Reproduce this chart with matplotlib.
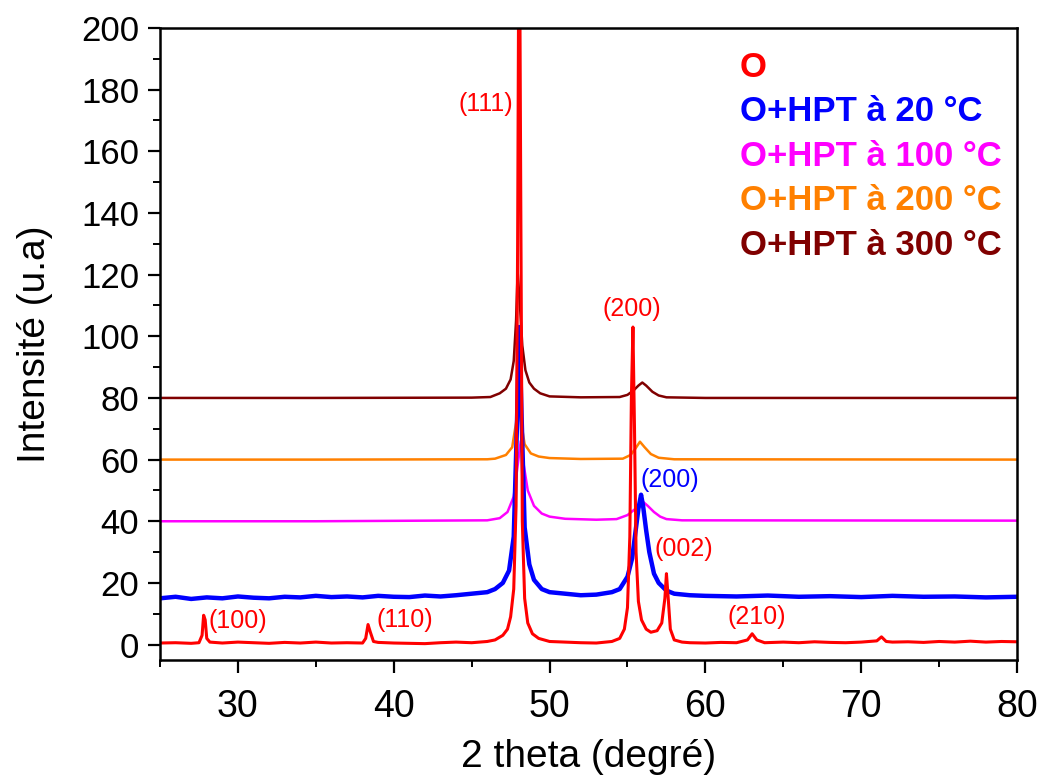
"""XRD patterns of O and O+HPT samples (stacked, offset baselines)."""
import matplotlib.pyplot as plt
from matplotlib.ticker import MultipleLocator

plt.rcParams.update({
    "font.family": ["Liberation Sans", "DejaVu Sans"],
    "font.size": 20,
    "axes.linewidth": 1.8,
})

# --- data (2theta in degrees, intensity in a.u.) ---
x_o = [25.0, 26.0, 27.0, 27.5, 27.7, 27.8, 27.9, 28.0, 28.2, 29.0, 30.0, 31.0, 32.0,
       33.0, 34.0, 35.0, 36.0, 37.0, 38.0, 38.2, 38.35, 38.5, 38.7, 39.0, 40.0, 41.0,
       42.0, 43.0, 44.0, 45.0, 46.0, 46.5, 47.0, 47.3, 47.5, 47.7, 47.85, 47.95, 48.05,
       48.15, 48.25, 48.4, 48.6, 48.9, 49.3, 50.0, 51.0, 52.0, 53.0, 54.0, 54.5, 54.8,
       55.0, 55.15, 55.25, 55.35, 55.45, 55.55, 55.7, 55.9, 56.2, 56.5, 56.9, 57.2,
       57.4, 57.5, 57.6, 57.75, 58.0, 58.5, 59.0, 60.0, 61.0, 62.0, 62.7, 63.0, 63.3,
       63.8, 65.0, 66.0, 67.0, 68.0, 69.0, 70.0, 71.0, 71.3, 71.6, 72.0, 73.0, 74.0,
       75.0, 76.0, 77.0, 78.0, 79.0, 80.0]
y_o = [0.5, 0.6, 0.4, 0.6, 3.0, 9.5, 8.0, 2.0, 0.8, 0.5, 0.8, 0.6, 0.4,
       0.7, 0.5, 0.8, 0.5, 0.6, 0.5, 2.0, 6.5, 4.0, 1.0, 0.7, 0.5, 0.4,
       0.3, 0.6, 0.8, 0.6, 1.0, 1.5, 3.0, 5.0, 9.0, 18.0, 45.0, 130.0, 260.0,
       146.0, 40.0, 15.0, 7.0, 3.5, 2.0, 1.0, 0.8, 0.6, 0.5, 1.0, 2.0, 5.0,
       12.0, 35.0, 80.0, 103.0, 70.0, 30.0, 14.0, 8.0, 5.0, 4.0, 4.5, 7.0,
       15.0, 23.0, 16.0, 5.0, 1.5, 0.8, 0.6, 0.5, 0.7, 0.6, 1.5, 3.5, 1.5,
       0.6, 0.8, 0.6, 0.9, 0.7, 0.6, 0.8, 1.2, 2.5, 1.0, 0.8, 0.9, 0.7,
       1.0, 0.8, 1.1, 0.8, 1.0, 0.9]

x_20 = [25.0, 26.0, 27.0, 28.0, 29.0, 30.0, 31.0, 32.0, 33.0, 34.0, 35.0, 36.0, 37.0,
        38.0, 39.0, 40.0, 41.0, 42.0, 43.0, 44.0, 45.0, 46.0, 46.5, 47.0, 47.4, 47.7,
        47.9, 48.05, 48.2, 48.4, 48.7, 49.0, 49.5, 50.0, 51.0, 52.0, 53.0, 54.0, 54.5,
        55.0, 55.3, 55.5, 55.7, 55.87, 56.0, 56.2, 56.4, 56.7, 57.0, 57.5, 58.0, 59.0,
        60.0, 62.0, 64.0, 66.0, 68.0, 70.0, 72.0, 74.0, 76.0, 78.0, 80.0]
y_20 = [15.0, 15.5, 14.8, 15.3, 15.0, 15.6, 15.2, 15.0, 15.5, 15.3, 15.8, 15.4, 15.6,
        15.3, 15.8, 15.5, 15.4, 15.9, 15.6, 16.0, 16.5, 17.0, 18.0, 20.0, 24.0, 35.0,
        70.0, 103.0, 75.0, 38.0, 26.0, 21.0, 18.0, 17.0, 16.5, 16.0, 16.2, 17.0, 18.0,
        22.0, 28.0, 36.0, 44.0, 48.6, 45.0, 37.0, 30.0, 23.0, 20.0, 17.5, 16.5, 16.0,
        15.8, 15.6, 15.9, 15.5, 15.7, 15.4, 15.8, 15.5, 15.6, 15.3, 15.5]

x_100 = [25.0, 35.0, 46.0, 46.8, 47.3, 47.7, 47.95, 48.15, 48.35, 48.6, 49.0, 49.5,
         50.0, 51.0, 53.0, 54.3, 55.0, 55.5, 55.8, 56.0, 56.3, 56.7, 57.1, 57.5,
         58.5, 80.0]
y_100 = [40.0, 40.0, 40.3, 41.0, 43.0, 48.0, 58.0, 66.0, 58.0, 50.0, 45.0, 42.5,
         41.5, 40.8, 40.5, 40.7, 42.0, 44.0, 46.0, 46.3, 45.0, 43.0, 41.5, 40.7,
         40.3, 40.2]

x_200 = [25.0, 35.0, 46.0, 46.5, 47.2, 47.6, 47.85, 48.0, 48.15, 48.4, 48.8, 49.3,
         50.0, 52.0, 54.7, 55.2, 55.5, 55.8, 56.1, 56.5, 57.0, 58.0, 80.0]
y_200 = [60.0, 60.0, 60.1, 60.3, 61.5, 64.0, 72.0, 81.7, 73.0, 65.0, 62.0, 61.0,
         60.5, 60.2, 60.3, 61.5, 63.5, 65.8, 64.0, 61.8, 60.6, 60.1, 60.0]

x_300 = [25.0, 35.0, 45.0, 46.2, 46.8, 47.2, 47.5, 47.7, 47.85, 47.95, 48.1, 48.25,
         48.45, 48.7, 49.0, 49.4, 50.0, 52.0, 54.5, 55.0, 55.4, 55.7, 55.95, 56.2,
         56.6, 57.0, 57.5, 60.0, 80.0]
y_300 = [80.0, 80.0, 80.1, 80.3, 81.5, 83.0, 86.0, 92.0, 105.0, 121.0, 110.0, 97.0,
         89.0, 85.0, 83.0, 81.5, 80.5, 80.2, 80.3, 81.0, 82.5, 84.0, 85.0, 84.0,
         82.0, 80.8, 80.2, 80.0, 80.0]

series = [
    ("O+HPT à 300 °C", x_300, y_300, "#800000", 1.8),
    ("O+HPT à 200 °C", x_200, y_200, "#FF8000", 1.8),
    ("O+HPT à 100 °C", x_100, y_100, "#FF00FF", 1.8),
    ("O+HPT à 20 °C", x_20, y_20, "#0000FF", 3.2),
    ("O", x_o, y_o, "#FF0000", 2.2),
]
legend_order = ["O", "O+HPT à 20 °C", "O+HPT à 100 °C", "O+HPT à 200 °C", "O+HPT à 300 °C"]

# peak labels: (text, x, y, color)
peaks = [
    ("(111)", 45.9, 175.5, "#FF0000"),
    ("(200)", 55.3, 109.0, "#FF0000"),
    ("(200)", 57.7, 53.5, "#0000FF"),
    ("(002)", 58.6, 31.0, "#FF0000"),
    ("(100)", 30.0, 7.5, "#FF0000"),
    ("(110)", 40.7, 8.0, "#FF0000"),
    ("(210)", 63.3, 9.0, "#FF0000"),
]

fig = plt.figure(figsize=(10.41, 7.78), dpi=100)
ax = fig.add_axes([0.1537, 0.1517, 0.8233, 0.8123])

lines = {}
for label, xs, ys, color, lw in series:
    (ln,) = ax.plot(xs, ys, color=color, lw=lw, label=label)
    lines[label] = ln

for txt, px, py, c in peaks:
    ax.text(px, py, txt, color=c, fontsize=18, ha="center", va="center")

ax.set_xlim(25, 80)
ax.set_ylim(-5, 200)
ax.xaxis.set_major_locator(MultipleLocator(10))
ax.xaxis.set_minor_locator(MultipleLocator(5))
ax.yaxis.set_major_locator(MultipleLocator(20))
ax.yaxis.set_minor_locator(MultipleLocator(10))
ax.tick_params(which="major", direction="out", length=9, width=1.6)
ax.tick_params(which="minor", direction="out", length=5, width=1.4)
ax.tick_params(axis="y", labelsize=25, pad=6)
ax.tick_params(axis="x", labelsize=27, pad=12)
ax.set_xlabel("2 theta (degré)", fontsize=28, labelpad=10)
ax.set_ylabel("Intensité (u.a)", fontsize=28, labelpad=20)

leg = ax.legend([lines[k] for k in legend_order], legend_order,
                loc="upper left", bbox_to_anchor=(0.652, 0.997), frameon=False,
                handlelength=0, handletextpad=0, labelspacing=0.33,
                borderaxespad=0.2, prop={"weight": "bold", "size": 25})
for t, k in zip(leg.get_texts(), legend_order):
    t.set_color(lines[k].get_color())
for h in leg.legend_handles:
    h.set_visible(False)

fig.savefig("out.png", dpi=100)
